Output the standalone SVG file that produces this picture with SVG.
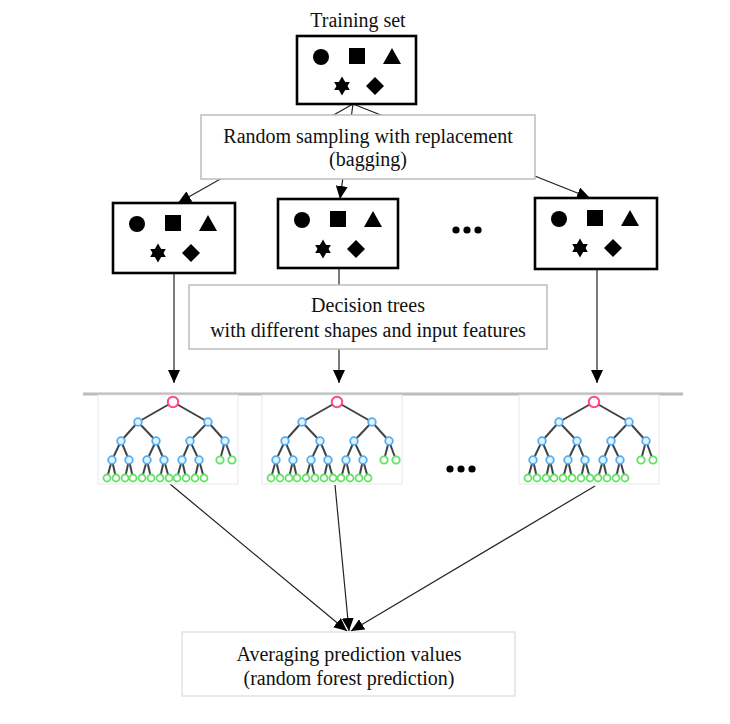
<svg xmlns="http://www.w3.org/2000/svg" xmlns:xlink="http://www.w3.org/1999/xlink" width="730" height="724" viewBox="0 0 730 724">
<style>
.lbl{font-family:"Liberation Serif","Times New Roman",serif;font-size:20px;fill:#111;text-anchor:middle}
.blk{fill:#fff;stroke:#000;stroke-width:2.6}
.gbox{fill:#fff;stroke:#bdbdbd;stroke-width:1.5}
.lbox{fill:#fff;stroke:#e2e2e2;stroke-width:1.5}
.con{stroke:#222;stroke-width:1.2;fill:none}
.e{stroke:#3f4446;stroke-width:2}
.nr{fill:#fff;stroke:#ff4a86;stroke-width:2}
.nb{fill:#e3f2ff;stroke:#52aef5;stroke-width:1.8}
.ng{fill:#fff;stroke:#62e262;stroke-width:1.8}
.frame{fill:#fff;stroke:#e8e8e8;stroke-width:1}
</style>
<defs>
<marker id="ah" markerUnits="userSpaceOnUse" markerWidth="13" markerHeight="12" refX="13" refY="6" orient="auto">
<path d="M0,0 L13,6 L0,12 z" fill="#000"/>
</marker>
<g id="samples">
<circle cx="24" cy="21" r="8" fill="#000"/>
<rect x="52" y="12" width="16" height="16" fill="#000"/>
<polygon points="95,12 104,28 86,28" fill="#000"/>
<polygon points="45,40.5 52.8,54 37.2,54" fill="#000"/>
<polygon points="45,59.5 52.8,46 37.2,46" fill="#000"/>
<polygon points="78,41 87,50 78,59 69,50" fill="#000"/>
</g>
<g id="tree">
<rect class="frame" x="-75" y="-7" width="140" height="89"/>
<g class="e">
<line x1="0" y1="0" x2="-35" y2="20"/><line x1="0" y1="0" x2="35" y2="20"/>
<line x1="-35" y1="20" x2="-52" y2="39"/><line x1="-35" y1="20" x2="-17" y2="39"/>
<line x1="35" y1="20" x2="17" y2="39"/><line x1="35" y1="20" x2="52" y2="39"/>
<line x1="-52" y1="39" x2="-61" y2="58"/><line x1="-52" y1="39" x2="-44" y2="58"/>
<line x1="-17" y1="39" x2="-26" y2="58"/><line x1="-17" y1="39" x2="-9" y2="58"/>
<line x1="17" y1="39" x2="9" y2="58"/><line x1="17" y1="39" x2="26" y2="58"/>
<line x1="52" y1="39" x2="47" y2="58"/><line x1="52" y1="39" x2="59" y2="58"/>
<line x1="-61" y1="58" x2="-66" y2="76"/><line x1="-61" y1="58" x2="-57" y2="76"/>
<line x1="-44" y1="58" x2="-48" y2="76"/><line x1="-44" y1="58" x2="-40" y2="76"/>
<line x1="-26" y1="58" x2="-31" y2="76"/><line x1="-26" y1="58" x2="-22" y2="76"/>
<line x1="-9" y1="58" x2="-13" y2="76"/><line x1="-9" y1="58" x2="-4" y2="76"/>
<line x1="9" y1="58" x2="4" y2="76"/><line x1="9" y1="58" x2="13" y2="76"/>
<line x1="26" y1="58" x2="22" y2="76"/><line x1="26" y1="58" x2="31" y2="76"/>
</g>
<circle class="nr" cx="0" cy="0" r="5.2"/>
<circle class="nb" cx="-35" cy="20" r="3.8"/><circle class="nb" cx="35" cy="20" r="3.8"/>
<circle class="nb" cx="-52" cy="39" r="3.8"/><circle class="nb" cx="-17" cy="39" r="3.8"/>
<circle class="nb" cx="17" cy="39" r="3.8"/><circle class="nb" cx="52" cy="39" r="3.8"/>
<circle class="nb" cx="-61" cy="58" r="3.8"/><circle class="nb" cx="-44" cy="58" r="3.8"/>
<circle class="nb" cx="-26" cy="58" r="3.8"/><circle class="nb" cx="-9" cy="58" r="3.8"/>
<circle class="nb" cx="9" cy="58" r="3.8"/><circle class="nb" cx="26" cy="58" r="3.8"/>
<circle class="ng" cx="47" cy="58" r="3.7"/><circle class="ng" cx="59" cy="58" r="3.7"/>
<circle class="ng" cx="-66" cy="76" r="3.5"/><circle class="ng" cx="-57" cy="76" r="3.5"/>
<circle class="ng" cx="-48" cy="76" r="3.5"/><circle class="ng" cx="-40" cy="76" r="3.5"/>
<circle class="ng" cx="-31" cy="76" r="3.5"/><circle class="ng" cx="-22" cy="76" r="3.5"/>
<circle class="ng" cx="-13" cy="76" r="3.5"/><circle class="ng" cx="-4" cy="76" r="3.5"/>
<circle class="ng" cx="4" cy="76" r="3.5"/><circle class="ng" cx="13" cy="76" r="3.5"/>
<circle class="ng" cx="22" cy="76" r="3.5"/><circle class="ng" cx="31" cy="76" r="3.5"/>
</g>
</defs>
<rect x="0" y="0" width="730" height="724" fill="#fff"/>

<g id="connectors">
<line class="con" x1="353" y1="104" x2="178" y2="203" marker-end="url(#ah)"/>
<line class="con" x1="353" y1="104" x2="340" y2="199" marker-end="url(#ah)"/>
<line class="con" x1="353" y1="104" x2="590" y2="198" marker-end="url(#ah)"/>
<line class="con" x1="174" y1="273" x2="174" y2="383" marker-end="url(#ah)"/>
<line class="con" x1="339" y1="268" x2="339" y2="383" marker-end="url(#ah)"/>
<line class="con" x1="597" y1="269" x2="597" y2="383" marker-end="url(#ah)"/>
<line class="con" x1="170" y1="484" x2="347" y2="631" marker-end="url(#ah)"/>
<line class="con" x1="335" y1="485" x2="349" y2="631" marker-end="url(#ah)"/>
<line class="con" x1="595" y1="486" x2="351" y2="631" marker-end="url(#ah)"/>
</g>

<g id="training-set">
<text class="lbl" x="358" y="27">Training set</text>
<rect class="blk" x="297" y="36" width="119" height="68"/>
<use xlink:href="#samples" href="#samples" x="297" y="36"/>
</g>

<g id="bagging">
<rect class="gbox" x="201" y="115" width="334" height="64"/>
<text class="lbl" x="368" y="143">Random sampling with replacement</text>
<text class="lbl" x="368" y="166">(bagging)</text>
</g>

<g id="sample-1">
<rect class="blk" x="113" y="203" width="122" height="70"/>
<use xlink:href="#samples" href="#samples" x="113" y="203"/>
</g>
<g id="sample-2">
<rect class="blk" x="278" y="199" width="120" height="69"/>
<use xlink:href="#samples" href="#samples" x="278" y="199"/>
</g>
<g id="sample-dots">
<circle cx="456" cy="230" r="3.6" fill="#000"/>
<circle cx="467" cy="230" r="3.6" fill="#000"/>
<circle cx="478" cy="230" r="3.6" fill="#000"/>
</g>
<g id="sample-n">
<rect class="blk" x="535" y="198" width="122" height="71"/>
<use xlink:href="#samples" href="#samples" x="535" y="198"/>
</g>

<g id="decision-trees">
<rect class="gbox" x="189" y="285" width="358" height="64"/>
<text class="lbl" x="368" y="312">Decision trees</text>
<text class="lbl" x="368" y="337">with different shapes and input features</text>
</g>

<g id="tree-row">
<line x1="83" y1="394" x2="683" y2="394" stroke="#bcbcbc" stroke-width="3"/>
</g>
<g id="tree-1"><use xlink:href="#tree" href="#tree" transform="translate(173,402)"/></g>
<g id="tree-2"><use xlink:href="#tree" href="#tree" transform="translate(337,402)"/></g>
<g id="tree-dots">
<circle cx="450" cy="469" r="3.6" fill="#000"/>
<circle cx="461" cy="469" r="3.6" fill="#000"/>
<circle cx="472" cy="469" r="3.6" fill="#000"/>
</g>
<g id="tree-n"><use xlink:href="#tree" href="#tree" transform="translate(594,402)"/></g>

<g id="averaging">
<rect class="lbox" x="182" y="632" width="333" height="64"/>
<text class="lbl" x="349" y="661">Averaging prediction values</text>
<text class="lbl" x="349" y="685">(random forest prediction)</text>
</g>
</svg>
